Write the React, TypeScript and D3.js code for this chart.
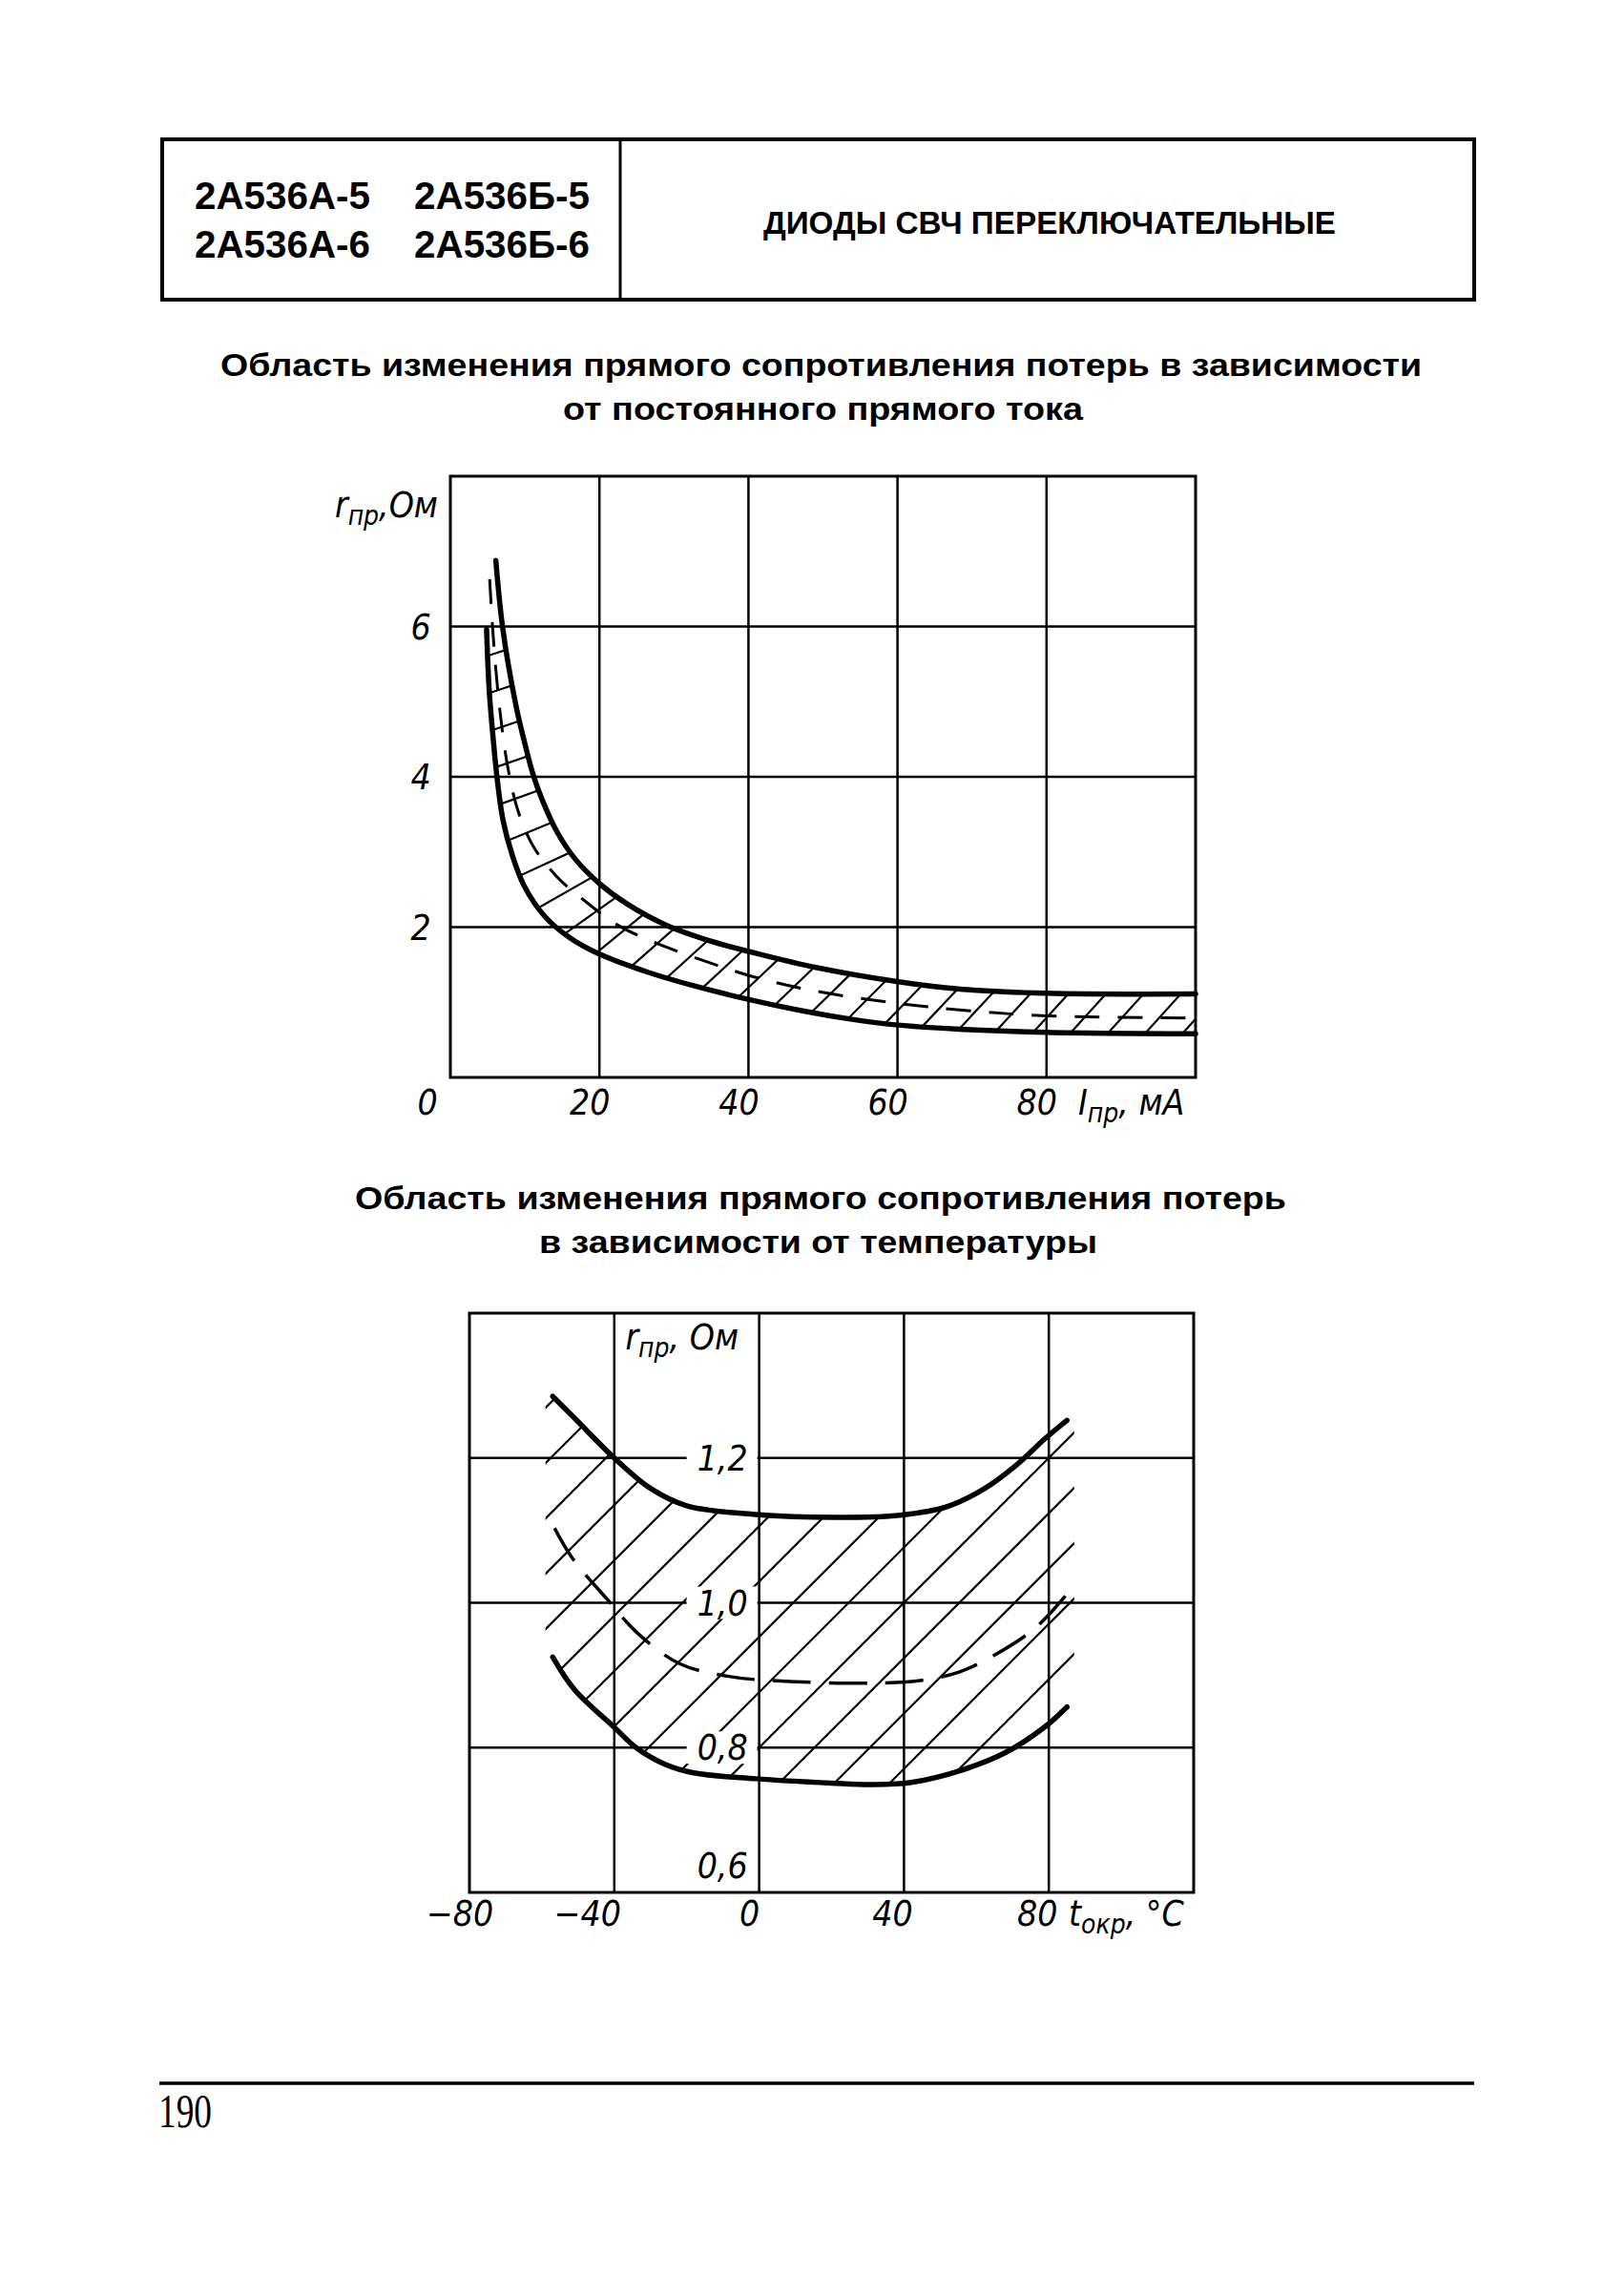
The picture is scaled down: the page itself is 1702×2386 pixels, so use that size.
import { useEffect, useRef } from "react";
import * as d3 from "d3";

const W = 1702;
const H = 2386;

const HEADER_CODES = [
  ["2А536А-5", "2А536Б-5"],
  ["2А536А-6", "2А536Б-6"],
];
const HEADER_TITLE = "ДИОДЫ СВЧ ПЕРЕКЛЮЧАТЕЛЬНЫЕ";
const TITLE_1 = ["Область изменения прямого сопротивления потерь в зависимости", "от постоянного прямого тока"];
const TITLE_2 = ["Область изменения прямого сопротивления потерь", "в зависимости от температуры"];
const PAGE_NUMBER = "190";

// chart 1: r_пр (Ом) vs I_пр (мА)
const CURRENT_TICKS = [0, 20, 40, 60, 80];
const RES_TICKS = [2, 4, 6];
const upperByCurrent: [number, number][] = [
  [6.1, 6.88], [7.05, 5.96], [8.8, 4.95], [9.9, 4.48], [11.1, 4.03], [12.3, 3.7], [14.3, 3.27],
  [16.8, 2.9], [20, 2.58], [23.7, 2.31], [28.9, 2.03], [35.4, 1.8], [40.3, 1.67], [49.2, 1.46],
  [59.7, 1.28], [67.8, 1.18], [80, 1.12], [100, 1.11],
];
const lowerByCurrent: [number, number][] = [
  [4.86, 5.96], [5.2, 5.17], [5.67, 4.59], [6.24, 4.01], [7.05, 3.43], [8.3, 2.96], [9.9, 2.55],
  [12.7, 2.14], [16, 1.86], [20, 1.64], [26.5, 1.4], [33, 1.21], [39.5, 1.05], [47.6, 0.88],
  [54.1, 0.77], [59.7, 0.7], [67.8, 0.645], [80, 0.6], [100, 0.58],
];
const typicalByCurrent: [number, number][] = [
  [5.27, 6.63], [5.83, 5.76], [6.65, 4.88], [7.7, 4.13], [9.1, 3.54], [11.1, 3.08], [14.3, 2.67],
  [18.4, 2.32], [22.4, 2.03], [27.3, 1.8], [33.8, 1.56], [40.3, 1.35], [48.4, 1.16], [59.7, 0.99],
  [69.4, 0.89], [80, 0.82], [100, 0.79],
];

// chart 2: r_пр (Ом) vs t_окр (°C)
const TEMP_TICKS = [-80, -40, 0, 40, 80];
const RES2_TICKS = [0.6, 0.8, 1.0, 1.2];
const RES2_LABELS = ["0,6", "0,8", "1,0", "1,2"];
const upperByTemp: [number, number][] = [
  [-57, 1.285], [-50, 1.25], [-40, 1.2], [-30, 1.158], [-20, 1.134], [-1, 1.122], [21, 1.118],
  [39, 1.121], [52, 1.133], [62, 1.157], [71, 1.19], [79, 1.227], [85, 1.252],
];
const lowerByTemp: [number, number][] = [
  [-57, 0.925], [-51, 0.88], [-40, 0.828], [-34, 0.8], [-26, 0.777], [-18, 0.765], [-1, 0.757],
  [20, 0.751], [31, 0.749], [42, 0.752], [56, 0.769], [68, 0.793], [79, 0.829], [85, 0.856],
];
const typicalByTemp: [number, number][] = [
  [-56.5, 1.103], [-51.5, 1.061], [-42, 1.005], [-34, 0.96], [-22, 0.916], [-8, 0.898], [6, 0.892],
  [31, 0.889], [45, 0.893], [55, 0.904], [64, 0.925], [76, 0.964], [85, 1.012],
];
const TEMP_HATCH_RANGE = [-59, 87];

const SANS_NARROW = "'Liberation Sans Narrow', 'Liberation Sans', Arial, sans-serif";
const DRAFT = "'Liberation Sans Narrow', 'DejaVu Sans Condensed', 'Liberation Sans', sans-serif";

type Pt = [number, number];

function samplePath(node: SVGPathElement, step: number): Pt[] {
  const len = node.getTotalLength();
  const pts: Pt[] = [];
  for (let s = 0; s < len; s += step) {
    const p = node.getPointAtLength(s);
    pts.push([p.x, p.y]);
  }
  const end = node.getPointAtLength(len);
  pts.push([end.x, end.y]);
  return pts;
}

function cross(ax: number, ay: number, bx: number, by: number) {
  return ax * by - ay * bx;
}

function castRay(p: Pt, d: Pt, pts: Pt[]) {
  let best = Infinity;
  for (let i = 0; i < pts.length - 1; i++) {
    const a = pts[i];
    const b = pts[i + 1];
    const ex = b[0] - a[0];
    const ey = b[1] - a[1];
    const den = cross(d[0], d[1], ex, ey);
    if (Math.abs(den) < 1e-9) continue;
    const apx = a[0] - p[0];
    const apy = a[1] - p[1];
    const t = cross(apx, apy, ex, ey) / den;
    const u = cross(apx, apy, d[0], d[1]) / den;
    if (t > 1 && u >= 0 && u <= 1 && t < best) best = t;
  }
  return best;
}

export default function App() {
  const svgRef = useRef<SVGSVGElement | null>(null);

  useEffect(() => {
    const svgElement = svgRef.current;
    if (!svgElement) return;
    const svg = d3.select(svgElement);
    svg.selectAll("*").remove();
    svg.append("rect").attr("width", W).attr("height", H).attr("fill", "#fff");

    // header box
    svg.append("rect").attr("x", 170).attr("y", 146).attr("width", 1545 - 170).attr("height", 314 - 146)
      .attr("fill", "none").attr("stroke", "#000").attr("stroke-width", 4);
    svg.append("line").attr("x1", 650).attr("x2", 650).attr("y1", 146).attr("y2", 314)
      .attr("stroke", "#000").attr("stroke-width", 3);
    HEADER_CODES.forEach((row, i) => {
      row.forEach((code, j) => {
        svg.append("text").attr("x", j === 0 ? 204 : 434).attr("y", 219 + i * 51)
          .attr("font-family", SANS_NARROW).attr("font-weight", 700).attr("font-size", 40)
          .attr("textLength", 184).attr("lengthAdjust", "spacingAndGlyphs").text(code);
      });
    });
    svg.append("text").attr("x", 800).attr("y", 245).attr("font-family", SANS_NARROW).attr("font-weight", 700)
      .attr("font-size", 34).attr("textLength", 600).attr("lengthAdjust", "spacingAndGlyphs").text(HEADER_TITLE);

    const titleRow = (txt: string, x: number, y: number, w: number) =>
      svg.append("text").attr("x", x).attr("y", y).attr("font-family", SANS_NARROW).attr("font-weight", 700)
        .attr("font-size", 34).attr("textLength", w).attr("lengthAdjust", "spacingAndGlyphs").text(txt);
    titleRow(TITLE_1[0], 231, 394, 1259);
    titleRow(TITLE_1[1], 590, 440, 545);
    titleRow(TITLE_2[0], 372, 1267, 976);
    titleRow(TITLE_2[1], 565, 1313, 585);

    // footer
    svg.append("line").attr("x1", 167).attr("x2", 1545).attr("y1", 2183).attr("y2", 2183)
      .attr("stroke", "#000").attr("stroke-width", 3.5);
    svg.append("text").attr("x", 166).attr("y", 2229).attr("font-family", "'Liberation Serif', 'Times New Roman', serif")
      .attr("font-size", 50).attr("textLength", 56).attr("lengthAdjust", "spacingAndGlyphs").text(PAGE_NUMBER);

    const curve = d3.curveCatmullRom.alpha(0.5);

    const label = (g: d3.Selection<SVGGElement, unknown, null, undefined>, txt: string, x: number, y: number, anchor = "middle") =>
      g.append("text").attr("x", x).attr("y", y).attr("text-anchor", anchor).attr("font-family", DRAFT)
        .attr("font-style", "italic").attr("font-size", 37).text(txt);

    const subTitle = (g: d3.Selection<SVGGElement, unknown, null, undefined>, main: string, sub: string, rest: string, x: number, y: number, anchor: string) => {
      const t = g.append("text").attr("x", x).attr("y", y).attr("text-anchor", anchor).attr("font-family", DRAFT)
        .attr("font-style", "italic").attr("font-size", 37);
      t.append("tspan").text(main);
      t.append("tspan").attr("font-size", 28).attr("dy", 8).text(sub);
      t.append("tspan").attr("dy", -8).text(rest);
    };

    // ---------- chart 1 ----------
    const x1 = d3.scaleLinear().domain([0, 100]).range([472, 1253]);
    const y1 = d3.scaleLinear().domain([0, 8]).range([1129, 499]);
    const g1 = svg.append("g");
    const line1 = d3.line<Pt>().x((d) => x1(d[0])).y((d) => y1(d[1])).curve(curve);

    g1.selectAll("line.vg").data(CURRENT_TICKS.slice(1)).join("line").attr("class", "vg")
      .attr("x1", (d) => x1(d)).attr("x2", (d) => x1(d)).attr("y1", y1(0)).attr("y2", y1(8))
      .attr("stroke", "#000").attr("stroke-width", 2.5);
    g1.selectAll("line.hg").data(RES_TICKS).join("line").attr("class", "hg")
      .attr("x1", x1(0)).attr("x2", x1(100)).attr("y1", (d) => y1(d)).attr("y2", (d) => y1(d))
      .attr("stroke", "#000").attr("stroke-width", 2.5);
    g1.append("rect").attr("x", x1(0)).attr("y", y1(8)).attr("width", x1(100) - x1(0)).attr("height", y1(0) - y1(8))
      .attr("fill", "none").attr("stroke", "#000").attr("stroke-width", 3);

    const upper1 = g1.append("path").attr("d", line1(upperByCurrent)).attr("fill", "none")
      .attr("stroke", "#000").attr("stroke-width", 5.5).attr("stroke-linecap", "round");
    const lower1 = g1.append("path").attr("d", line1(lowerByCurrent)).attr("fill", "none")
      .attr("stroke", "#000").attr("stroke-width", 5.5).attr("stroke-linecap", "round");
    g1.append("path").attr("d", line1(typicalByCurrent)).attr("fill", "none")
      .attr("stroke", "#000").attr("stroke-width", 3).attr("stroke-dasharray", "26,19");

    // hatching: strokes from the lower bound to the upper bound
    const upperPts1 = samplePath(upper1.node() as SVGPathElement, 2);
    const rightEdge: Pt[] = [[x1(100), y1(8)], [x1(100), y1(0)]];
    const lowerNode = lower1.node() as SVGPathElement;
    const lowerLen = lowerNode.getTotalLength();
    const hatch1: [Pt, Pt][] = [];
    for (let s = lowerLen - 14; s > 20; s -= 39) {
      const p = lowerNode.getPointAtLength(s);
      const a = lowerNode.getPointAtLength(Math.max(0, s - 3));
      const b = lowerNode.getPointAtLength(Math.min(lowerLen, s + 3));
      const phi = Math.atan2(Math.abs(b.y - a.y), Math.abs(b.x - a.x));
      const alpha = (-(48 - 31 * (phi / (Math.PI / 2))) * Math.PI) / 180;
      const d: Pt = [Math.cos(alpha), Math.sin(alpha)];
      const start: Pt = [p.x, p.y];
      const t = Math.min(castRay(start, d, upperPts1), castRay(start, d, rightEdge));
      if (!isFinite(t) || t > 140) continue;
      hatch1.push([start, [p.x + d[0] * t, p.y + d[1] * t]]);
    }
    g1.selectAll("line.h1").data(hatch1).join("line").attr("class", "h1")
      .attr("x1", (d) => d[0][0]).attr("y1", (d) => d[0][1]).attr("x2", (d) => d[1][0]).attr("y2", (d) => d[1][1])
      .attr("stroke", "#000").attr("stroke-width", 2.2);

    CURRENT_TICKS.forEach((v) => label(g1, String(v), v === 0 ? x1(v) - 24 : x1(v) - 10, 1168));
    RES_TICKS.forEach((v) => label(g1, String(v), 441, y1(v) + 13));
    subTitle(g1, "r", "пр", ",Ом", 459, 542, "end");
    subTitle(g1, "I", "пр", ", мА", 1130, 1168, "start");

    // ---------- chart 2 ----------
    const x2 = d3.scaleLinear().domain([-80, 120]).range([492, 1251]);
    const y2 = d3.scaleLinear().domain([0.6, 1.4]).range([1983, 1376]);
    const g2 = svg.append("g");
    const line2 = d3.line<Pt>().x((d) => x2(d[0])).y((d) => y2(d[1])).curve(curve);

    g2.selectAll("line.vg").data(TEMP_TICKS.slice(1)).join("line").attr("class", "vg")
      .attr("x1", (d) => x2(d)).attr("x2", (d) => x2(d)).attr("y1", y2(0.6)).attr("y2", y2(1.4))
      .attr("stroke", "#000").attr("stroke-width", 2.5);
    g2.selectAll("line.hg").data(RES2_TICKS.slice(1)).join("line").attr("class", "hg")
      .attr("x1", x2(-80)).attr("x2", x2(120)).attr("y1", (d) => y2(d)).attr("y2", (d) => y2(d))
      .attr("stroke", "#000").attr("stroke-width", 2.5);
    g2.append("rect").attr("x", x2(-80)).attr("y", y2(1.4)).attr("width", x2(120) - x2(-80)).attr("height", y2(0.6) - y2(1.4))
      .attr("fill", "none").attr("stroke", "#000").attr("stroke-width", 3);

    const upper2 = g2.append("path").attr("d", line2(upperByTemp)).attr("fill", "none")
      .attr("stroke", "#000").attr("stroke-width", 5.5).attr("stroke-linecap", "round");
    const lower2 = g2.append("path").attr("d", line2(lowerByTemp)).attr("fill", "none")
      .attr("stroke", "#000").attr("stroke-width", 5.5).attr("stroke-linecap", "round");

    const up2 = samplePath(upper2.node() as SVGPathElement, 4);
    const lo2 = samplePath(lower2.node() as SVGPathElement, 4);
    const xl = x2(TEMP_HATCH_RANGE[0]);
    const xr = x2(TEMP_HATCH_RANGE[1]);
    const region: Pt[] = [
      [xl, up2[0][1]], ...up2, [xr, up2[up2.length - 1][1]],
      [xr, lo2[lo2.length - 1][1]], ...lo2.slice().reverse(), [xl, lo2[0][1]],
    ];
    const defs = svg.append("defs");
    defs.append("clipPath").attr("id", "band2").append("polygon")
      .attr("points", region.map((p) => p.join(",")).join(" "));
    const top = d3.min(region, (p) => p[1]) ?? 0;
    const bottom = d3.max(region, (p) => p[1]) ?? 0;
    const c0 = x2(0) + y2(0.8);
    const offsets = d3.range(-40, 41).map((k) => c0 + k * 58)
      .filter((c) => c - bottom < xr + 10 && c - top > xl - 10);
    g2.append("g").attr("clip-path", "url(#band2)").selectAll("line").data(offsets).join("line")
      .attr("x1", (c) => c - bottom).attr("y1", bottom).attr("x2", (c) => c - top).attr("y2", top)
      .attr("stroke", "#000").attr("stroke-width", 2.2);

    g2.append("path").attr("d", line2(typicalByTemp)).attr("fill", "none")
      .attr("stroke", "#000").attr("stroke-width", 3.5).attr("stroke-dasharray", "40,19");

    TEMP_TICKS.forEach((v) => {
      const txt = v < 0 ? `\u2212${Math.abs(v)}` : String(v);
      const dx = v === -80 ? -10 : v === 0 ? -10 : v === -40 ? -28 : -12;
      label(g2, txt, x2(v) + dx, 2018);
    });
    RES2_TICKS.forEach((v, i) => {
      const yy = v === 0.6 ? y2(v) - 28 : y2(v);
      if (v !== 0.6) {
        g2.append("rect").attr("x", x2(0) - 76).attr("y", yy - 17).attr("width", 74).attr("height", 34).attr("fill", "#fff");
      }
      label(g2, RES2_LABELS[i], x2(0) - 12, yy + 13, "end");
    });
    subTitle(g2, "r", "пр", ", Ом", 774, 1414, "end");
    subTitle(g2, "t", "окр", ", °C", 1120, 2018, "start");
  }, []);

  return (
    <svg ref={svgRef} width={W} height={H} style={{ position: "absolute", left: 0, top: 0, display: "block" }} />
  );
}
